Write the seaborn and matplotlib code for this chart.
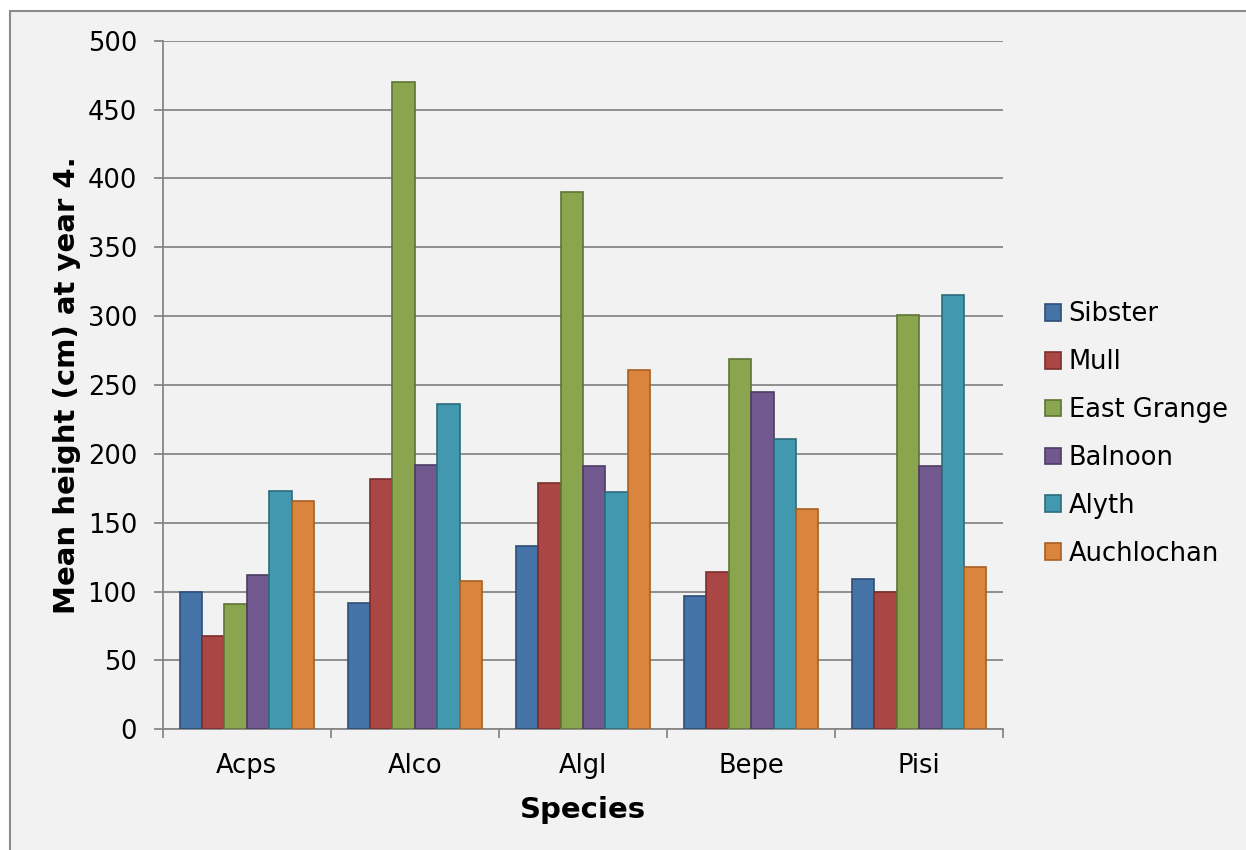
import matplotlib
matplotlib.use("Agg")
import matplotlib.pyplot as plt
from matplotlib.patches import Rectangle
from matplotlib.ticker import FixedLocator
import seaborn as sns
import pandas as pd
import numpy as np

# Mean tree height (cm) at year 4, per species and site
species = ["Acps", "Alco", "Algl", "Bepe", "Pisi"]
sites = ["Sibster", "Mull", "East Grange", "Balnoon", "Alyth", "Auchlochan"]
sibster = [100, 92, 133, 97, 109]
mull = [68, 182, 179, 114, 100]
east_grange = [91, 470, 390, 269, 301]
balnoon = [112, 192, 191, 245, 191]
alyth = [173, 236, 172, 211, 315]
auchlochan = [166, 108, 261, 160, 118]

fills = ["#4572A7", "#AA4643", "#89A54E", "#71588F", "#4198AF", "#DB843D"]
edges = ["#2E4E76", "#7A2F2D", "#5E7535", "#4D3C63", "#2C6C7D", "#A85F24"]

series = [sibster, mull, east_grange, balnoon, alyth, auchlochan]
rows = []
for site, vals in zip(sites, series):
    for sp, v in zip(species, vals):
        rows.append({"Species": sp, "Site": site, "Height": v})
df = pd.DataFrame(rows)

sns.set_theme(style="white")
plt.rcParams["font.family"] = ["DejaVu Sans"]
plt.rcParams["text.color"] = "black"
plt.rcParams["axes.labelcolor"] = "black"

W, H = 1246, 850
fig = plt.figure(figsize=(W / 100, H / 100), dpi=100, facecolor="white")

# chart area panel with thin grey frame
fig.patches.append(Rectangle((10 / W, -0.01), 1.02, 1 - 11 / H + 0.01,
                             transform=fig.transFigure, facecolor="#F2F2F2",
                             edgecolor="#8C8C8C", linewidth=1.5, zorder=-10))

ax = fig.add_axes([162.7 / W, 1 - 729.3 / H, 840.6 / W, 688.6 / H])
ax.set_facecolor("none")

sns.barplot(data=df, x="Species", y="Height", hue="Site", order=species,
            hue_order=sites, palette=fills, width=0.8, ax=ax, legend=True,
            saturation=1, errorbar=None)

for cont, ec in zip(ax.containers, edges):
    for bar in cont:
        bar.set_edgecolor(ec)
        bar.set_linewidth(1.2)
        bar.set_zorder(3)

grid_c = "#878787"
ax.set_ylim(0, 500)
ax.set_xlim(-0.5, len(species) - 0.5)
ax.set_yticks(np.arange(0, 501, 50))
ax.yaxis.grid(True, color=grid_c, linewidth=1.3)
ax.set_axisbelow(True)

for s in ["top", "right"]:
    ax.spines[s].set_visible(False)
for s in ["left", "bottom"]:
    ax.spines[s].set_color(grid_c)
    ax.spines[s].set_linewidth(1.3)

ax.tick_params(axis="y", direction="out", length=6.5, width=1.3, color=grid_c,
               labelsize=18.5, pad=12, labelcolor="black", left=True)
ax.tick_params(axis="x", which="major", length=0, labelsize=18.5, pad=17,
               labelcolor="black")
ax.xaxis.set_minor_locator(FixedLocator(np.arange(-0.5, len(species), 1.0)))
ax.tick_params(axis="x", which="minor", direction="out", length=6.5, width=1.3,
               color=grid_c, bottom=True)

ax.set_xlabel("Species", fontsize=21, fontweight="bold", labelpad=12,
              color="black")
ax.set_ylabel("Mean height (cm) at year 4.", fontsize=21, fontweight="bold",
              color="black")
ax.yaxis.set_label_coords(-0.0972, 0.5)

handles, labels = ax.get_legend_handles_labels()
for h, ec in zip(handles, edges):
    h.set_edgecolor(ec)
    h.set_linewidth(1.2)
leg = ax.legend(handles, labels, loc="center left",
                bbox_to_anchor=(1045 / W, 1 - 434 / H),
                bbox_transform=fig.transFigure, frameon=False, fontsize=18.5,
                handlelength=0.62, handleheight=0.62, handletextpad=0.3,
                labelspacing=0.85, borderaxespad=0, borderpad=0)
for t in leg.get_texts():
    t.set_color("black")

fig.savefig("out.png", dpi=100, facecolor=fig.get_facecolor())
